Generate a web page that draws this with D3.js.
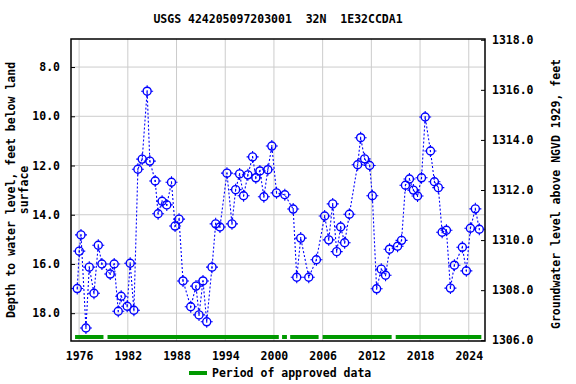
<!DOCTYPE html>
<html>
<head>
<meta charset="utf-8">
<script src="https://cdn.jsdelivr.net/npm/d3@7"></script>
<style>
  body { margin: 0; background: #fff; }
  text { font-family: "DejaVu Sans Mono", monospace; font-weight: bold; fill: #000; }
</style>
</head>
<body>
<div id="chart"></div>
<script>
// values
const title = "USGS 424205097203001  32N  1E32CCDA1";

const years = [
  1975.77, 1976.02, 1976.23, 1976.84, 1977.25, 1977.83, 1978.36, 1978.81, 1979.83, 1980.32,
  1980.82, 1981.18, 1981.92, 1982.29, 1982.75, 1983.24, 1983.77, 1984.38, 1984.71, 1985.37,
  1985.73, 1986.22, 1986.80, 1987.38, 1987.82, 1988.31, 1988.80, 1989.75, 1990.40, 1990.77,
  1991.26, 1991.72, 1992.37, 1992.82, 1993.35, 1994.21, 1994.83, 1995.28, 1995.77, 1996.26,
  1996.79, 1997.37, 1997.77, 1998.27, 1998.76, 1999.25, 1999.74, 2000.32, 2001.34, 2002.37,
  2002.81, 2003.30, 2004.29, 2005.23, 2006.25, 2006.75, 2007.24, 2007.73, 2008.22, 2008.71,
  2009.29, 2010.31, 2010.68, 2011.17, 2011.79, 2012.12, 2012.65, 2013.22, 2013.75, 2014.24,
  2015.23, 2015.72, 2016.20, 2016.69, 2017.18, 2017.69, 2018.18, 2018.63, 2019.28, 2019.77,
  2020.25, 2020.72, 2021.25, 2021.74, 2022.23, 2023.21, 2023.70, 2024.20, 2024.81, 2025.30
];

const depths = [
  17.0, 15.48, 14.82, 18.6, 16.13, 17.19, 15.24, 16.0, 16.41, 16.0,
  17.92, 17.31, 17.72, 15.97, 17.88, 12.15, 11.74, 8.98, 11.82, 12.63,
  13.96, 13.45, 13.6, 12.68, 14.46, 14.18, 16.69, 17.74, 16.9, 18.07,
  16.69, 18.35, 16.13, 14.37, 14.5, 12.31, 14.37, 12.98, 12.34, 13.23,
  12.38, 11.65, 12.5, 12.22, 13.27, 12.17, 11.21, 13.11, 13.19, 13.77,
  16.54, 14.95, 16.54, 15.83, 14.05, 15.02, 13.56, 15.5, 14.5, 15.14,
  13.98, 11.97, 10.87, 11.73, 12.0, 13.23, 17.01, 16.21, 16.46, 15.4,
  15.28, 15.04, 12.8, 12.55, 13.0, 13.24, 12.5, 10.03, 11.41, 12.66,
  12.9, 14.71, 14.63, 16.98, 16.05, 15.32, 16.28, 14.55, 13.76, 14.59
];

// approved periods, start/end in decimal years
const approvedStart = [1975.5, 1979.5, 2001.0, 2002.0, 2006.0, 2015.0];
const approvedEnd   = [1979.0, 2000.6, 2001.6, 2005.5, 2014.5, 2025.55];

const xTicks = [1976, 1982, 1988, 1994, 2000, 2006, 2012, 2018, 2024];
const leftTicks = [8, 10, 12, 14, 16, 18];
const rightTicks = [1306, 1308, 1310, 1312, 1314, 1316, 1318];

const width = 576, height = 384;
const margin = {top: 39, right: 91, bottom: 43, left: 71};
const plotW = width - margin.left - margin.right;
const plotH = height - margin.top - margin.bottom;

const svg = d3.select("#chart").append("svg")
  .attr("width", width)
  .attr("height", height);

const x = d3.scaleLinear().domain([1975.0, 2026.0]).range([0, plotW]);
const y = d3.scaleLinear().domain([6.86, 19.13]).range([0, plotH]);
const y2 = d3.scaleLinear().domain([1318.03, 1305.97]).range([0, plotH]);

const g = svg.append("g").attr("transform", `translate(${margin.left},${margin.top})`);

// grid
g.selectAll(".vgrid").data(xTicks).enter().append("line")
  .attr("x1", d => x(d)).attr("x2", d => x(d))
  .attr("y1", 0).attr("y2", plotH)
  .attr("stroke", "#cccccc").attr("stroke-width", 1);
g.selectAll(".hgrid").data(leftTicks).enter().append("line")
  .attr("x1", 0).attr("x2", plotW)
  .attr("y1", d => y(d)).attr("y2", d => y(d))
  .attr("stroke", "#cccccc").attr("stroke-width", 1);

// axes
const axisFont = "11.5px";
const xAxis = g.append("g").attr("transform", `translate(0,${plotH})`)
  .call(d3.axisBottom(x).tickValues(xTicks).tickFormat(d3.format("d")).tickSize(0).tickPadding(11));
const yAxis = g.append("g")
  .call(d3.axisLeft(y).tickValues(leftTicks).tickFormat(d3.format(".1f")).tickSize(4).tickPadding(7));
const yAxis2 = g.append("g").attr("transform", `translate(${plotW},0)`)
  .call(d3.axisRight(y2).tickValues(rightTicks).tickFormat(d3.format(".1f")).tickSizeInner(-4).tickSizeOuter(0).tickPadding(7));

[xAxis, yAxis, yAxis2].forEach(a => {
  a.select(".domain").remove();
  a.selectAll("text").style("font-size", axisFont).attr("font-family", null);
  a.selectAll("line").attr("stroke", "#000");
});
yAxis.selectAll("line").attr("x2", 4);

// approved data bars
g.selectAll(".approved").data(approvedStart).enter().append("line")
  .attr("x1", d => x(d))
  .attr("x2", (d, i) => x(approvedEnd[i]))
  .attr("y1", plotH - 4).attr("y2", plotH - 4)
  .attr("stroke", "#009900").attr("stroke-width", 4);

// data line
const pts = years.map((yr, i) => [yr, depths[i]]);
const line = d3.line().x(d => x(d[0])).y(d => y(d[1]));
g.append("path").datum(pts)
  .attr("d", line)
  .attr("fill", "none")
  .attr("stroke", "#0000ff")
  .attr("stroke-width", 1.1)
  .attr("stroke-dasharray", "2,2");

// markers
const mk = g.selectAll(".pt").data(pts).enter().append("g")
  .attr("transform", d => `translate(${x(d[0])},${y(d[1])})`);
mk.append("circle").attr("r", 4)
  .attr("fill", "none").attr("stroke", "#0000ff").attr("stroke-width", 1.4);
mk.append("path")
  .attr("d", "M0,-6V-4M0,4V6M-6,0H-4M4,0H6M0,-1V1")
  .attr("stroke", "#0000ff").attr("stroke-width", 1.1);

// frame
g.append("rect").attr("width", plotW).attr("height", plotH)
  .attr("fill", "none").attr("stroke", "#000").attr("stroke-width", 1.5);

// title
svg.append("text")
  .attr("x", margin.left + plotW / 2).attr("y", 23)
  .attr("text-anchor", "middle")
  .style("font-size", "11.5px")
  .style("white-space", "pre")
  .text(title);

// left axis title
const lt = svg.append("text")
  .attr("transform", `translate(15,${margin.top + plotH / 2}) rotate(-90)`)
  .attr("text-anchor", "middle")
  .style("font-size", "11.5px");
lt.append("tspan").attr("x", 0).attr("dy", 0).text("Depth to water level, feet below land");
lt.append("tspan").attr("x", 0).attr("dy", 13).text("surface");

// right axis title
svg.append("text")
  .attr("transform", `translate(560,${margin.top + plotH / 2 + 4}) rotate(-90)`)
  .attr("text-anchor", "middle")
  .style("font-size", "11.5px")
  .text("Groundwater level above NGVD 1929, feet");

// legend
svg.append("line")
  .attr("x1", 189).attr("x2", 207).attr("y1", 373).attr("y2", 373)
  .attr("stroke", "#009900").attr("stroke-width", 4);
svg.append("text")
  .attr("x", 212).attr("y", 377)
  .style("font-size", "11.5px")
  .text("Period of approved data");
</script>
</body>
</html>
